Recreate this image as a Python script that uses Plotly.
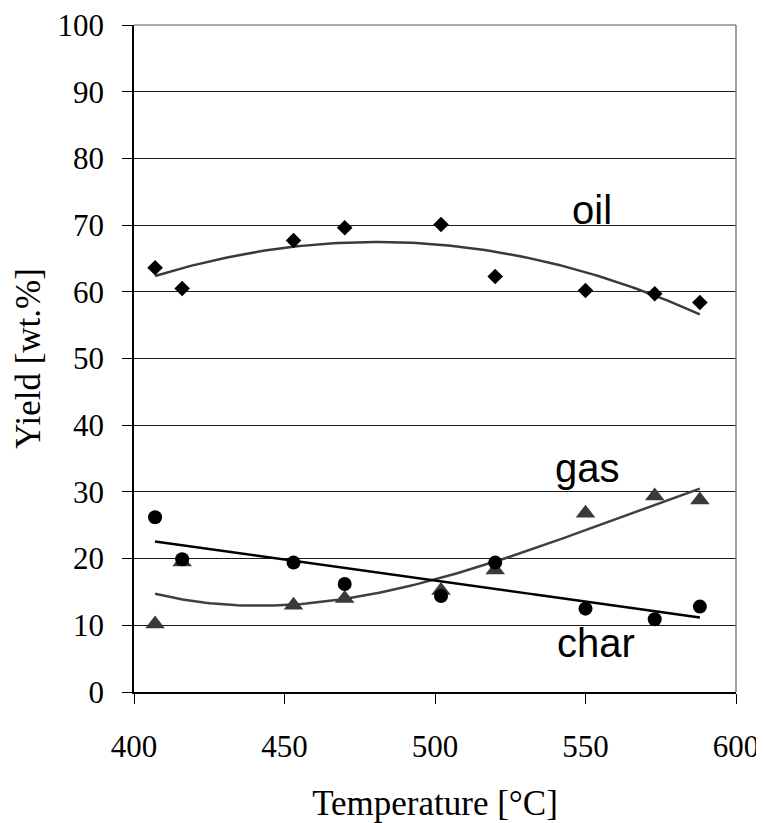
import numpy as np
import plotly.graph_objects as go

# Data
temperature = [407, 416, 453, 470, 502, 520, 550, 573, 588]
oil_yield = [63.6, 60.5, 67.7, 69.6, 70.1, 62.3, 60.2, 59.7, 58.4]
gas_yield = [10.2, 19.5, 13.0, 14.0, 15.2, 18.3, 26.8, 29.4, 28.8]
char_yield = [26.2, 19.9, 19.4, 16.2, 14.4, 19.4, 12.5, 10.9, 12.8]

x_ticks = [400, 450, 500, 550, 600]
y_ticks = list(range(0, 101, 10))

labels = ["oil", "gas", "char"]
label_x = [552, 550.5, 553.5]
label_y = [72.3, 33.6, 7.4]

# Trend lines (least-squares fits, as in the original spreadsheet trendlines)
t = np.array(temperature, dtype=float)
tt = np.linspace(t.min(), t.max(), 120)
oil_fit = np.polyval(np.polyfit(t, oil_yield, 2), tt)
gas_fit = np.polyval(np.polyfit(t, gas_yield, 3), tt)
char_fit = np.polyval(np.polyfit(t, char_yield, 1), tt)

fig = go.Figure()

fig.add_trace(go.Scatter(x=tt, y=oil_fit, mode="lines",
                         line=dict(color="#3a3a3a", width=2.5), showlegend=False))
fig.add_trace(go.Scatter(x=tt, y=gas_fit, mode="lines",
                         line=dict(color="#404040", width=2.5), showlegend=False))
fig.add_trace(go.Scatter(x=tt, y=char_fit, mode="lines",
                         line=dict(color="#000000", width=2.5), showlegend=False))

fig.add_trace(go.Scatter(x=temperature, y=oil_yield, mode="markers",
                         marker=dict(symbol="diamond", size=12, color="#000000"),
                         showlegend=False))
fig.add_trace(go.Scatter(x=temperature, y=gas_yield, mode="markers",
                         marker=dict(symbol="triangle-up", size=17, color="#3a3a3a"),
                         showlegend=False))
fig.add_trace(go.Scatter(x=temperature, y=char_yield, mode="markers",
                         marker=dict(symbol="circle", size=14, color="#000000"),
                         showlegend=False))

for txt, lx, ly in zip(labels, label_x, label_y):
    fig.add_annotation(x=lx, y=ly, text=txt, showarrow=False,
                       xanchor="center", yanchor="middle",
                       font=dict(family="Liberation Sans", size=40, color="#000000"))

# Right-hand and top plot border (top coincides with the 100 gridline)
fig.add_shape(type="line", xref="paper", yref="paper", x0=1, x1=1, y0=0, y1=1,
              line=dict(color="#808080", width=1.5))
fig.add_shape(type="line", xref="paper", yref="paper", x0=0, x1=1, y0=1, y1=1,
              line=dict(color="#555555", width=1))

serif = "Times New Roman"

fig.update_layout(
    width=756, height=815,
    margin=dict(l=126, r=28, t=17, b=131),
    paper_bgcolor="white", plot_bgcolor="white",
    font=dict(family=serif, color="#000000"),
    xaxis=dict(
        range=[400, 600], tickvals=x_ticks, ticktext=[str(v) for v in x_ticks],
        showgrid=False, zeroline=False, automargin=False,
        showline=True, linecolor="#000000", linewidth=1.5,
        ticks="outside", ticklen=10, tickcolor="#000000", tickwidth=1,
        tickfont=dict(family=serif, size=31), ticklabelstandoff=16,
        ticklabeloverflow="allow",
        title=dict(text="Temperature [°C]", font=dict(family=serif, size=35), standoff=30),
    ),
    yaxis=dict(
        range=[0, 100], tickvals=y_ticks, ticktext=[str(v) for v in y_ticks],
        showgrid=True, gridcolor="#1a1a1a", gridwidth=1, zeroline=False, automargin=False,
        showline=True, linecolor="#000000", linewidth=1.5,
        ticks="outside", ticklen=10, tickcolor="#000000", tickwidth=1,
        tickfont=dict(family=serif, size=31), ticklabelstandoff=12,
        ticklabeloverflow="allow",
        title=dict(text="Yield [wt.%]", font=dict(family=serif, size=35), standoff=6),
    ),
)

fig.write_html("out.html")
